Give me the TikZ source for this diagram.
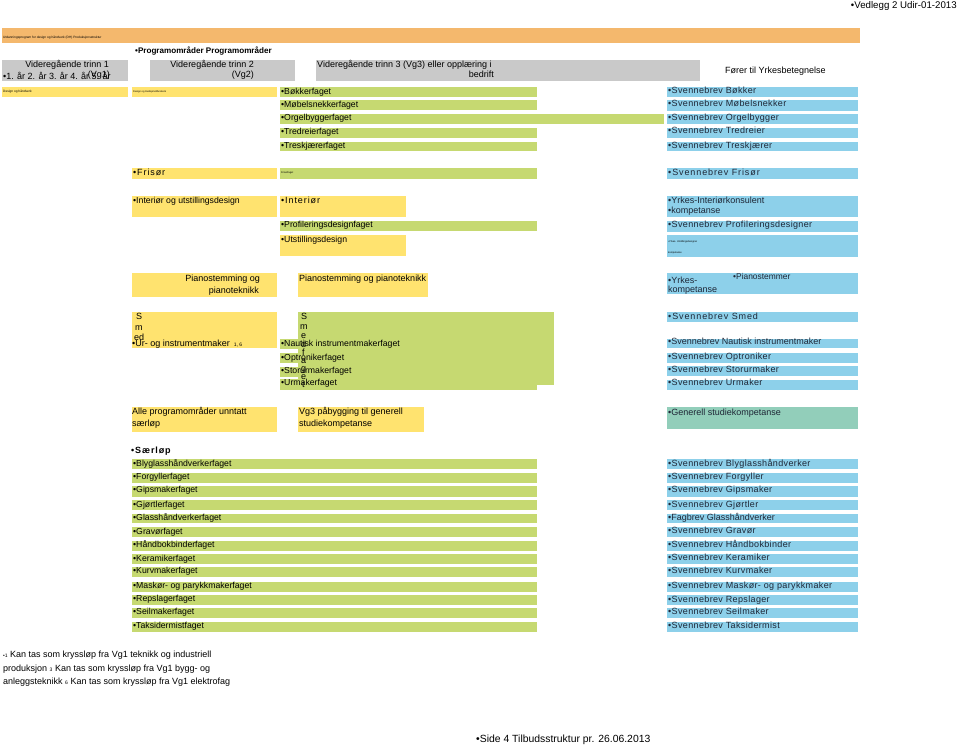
\documentclass[tikz,border=0pt]{standalone}
\usepackage{fontspec}
\setmainfont{Liberation Sans}
\newfontfamily\spaced[LetterSpace=4]{Liberation Sans}
\newfontfamily\widesp[LetterSpace=10]{Liberation Sans}
\usepackage{xcolor}
\usepackage{tikz}
\usetikzlibrary{positioning}

\definecolor{dhorange}{HTML}{F4B86D}
\definecolor{dhgrey}{HTML}{C9C9C9}
\definecolor{dhyellow}{HTML}{FFE36F}
\definecolor{dhgreen}{HTML}{C6D971}
\definecolor{dhblue}{HTML}{8DD0EA}
\definecolor{dhteal}{HTML}{92CEBA}
\definecolor{dhtext}{HTML}{1E2636}

\begin{document}
\begin{tikzpicture}[
      x=1pt, y=-1pt,
      txt/.style={anchor=west, inner sep=0pt, font=\fontsize{8.7}{10}\selectfont,
                  text height=6.3pt, text depth=1.8pt},
      hd/.style={txt, font=\fontsize{9}{10}\selectfont},
      sv/.style={txt, text=dhtext, font=\spaced\fontsize{9}{10}\selectfont},
      svw/.style={txt, text=dhtext, font=\widesp\fontsize{9}{10}\selectfont},
      tiny/.style={anchor=west, inner sep=0pt, font=\fontsize{2.8}{3}\selectfont},
      orng/.style={fill=dhorange},
      gry/.style={fill=dhgrey},
      yel/.style={fill=dhyellow},
      grn/.style={fill=dhgreen},
      blu/.style={fill=dhblue},
      tea/.style={fill=dhteal}
    ]
    \fill[white] (0,0) rectangle (960,746);
    \useasboundingbox (0,0) rectangle (960,746);

    % top line
    \node[anchor=east, inner sep=0pt, font=\fontsize{9.7}{11}\selectfont] (vedlegg) at (957,6) {•Vedlegg 2 Udir-01-2013};
    \path[orng] (2,28) rectangle (860,43);
    \node[tiny, font=\fontsize{3.2}{4}\selectfont] (bartxt) at (3,38) {Utdanningsprogram for design og håndverk (DH) Produksjonsstruktur};
    \node[txt, font=\bfseries\fontsize{8.1}{10}\selectfont] (progomr) at (135,51) {•Programområder Programområder};

    % header boxes
    \path[gry] (2,60) rectangle (128,81);
    \node[hd, anchor=east] (vg1a) at (109,65) {Videregående trinn 1};
    \node[hd, anchor=east] (vg1b) at (110,75) {(Vg1)};
    \node[hd] (aar) at (3,77) {•1. år 2. år 3. år 4. år 5. år};
    \path[gry] (150,60) rectangle (295,81);
    \node[hd, anchor=east] (vg2a) at (254,65) {Videregående trinn 2};
    \node[hd, anchor=east] (vg2b) at (254,75) {(Vg2)};
    \path[gry] (316,60) rectangle (700,81);
    \node[hd] (vg3a) at (317,65) {Videregående trinn 3 (Vg3) eller opplæring i};
    \node[hd, anchor=east] (vg3b) at (494,75) {bedrift};
    \node[hd] (forer) at (725,71) {Fører til Yrkesbetegnelse};

    % design og tradisjonshaandverk
    \path[yel] (2,87) rectangle (128,97);
    \node[tiny, font=\fontsize{3.2}{4}\selectfont] (dh1) at (3,92) {Design og håndverk};
    \path[yel] (132,87) rectangle (277,97);
    \node[tiny, font=\fontsize{2.5}{3}\selectfont] (dh2) at (133,92) {Design og tradisjonshåndverk};
    \path[grn] (280,87) rectangle (537,97);
    \node[txt] (bok) at (281,92) {•Bøkkerfaget};
    \path[grn] (280,100) rectangle (537,110);
    \node[txt] (mob) at (281,105) {•Møbelsnekkerfaget};
    \path[grn] (280,114) rectangle (664,124);
    \node[txt] (org) at (281,118) {•Orgelbyggerfaget};
    \path[grn] (280,128) rectangle (537,138);
    \node[txt] (tre) at (281,132) {•Tredreierfaget};
    \path[grn] (280,142) rectangle (537,151);
    \node[txt] (tsk) at (281,146) {•Treskjærerfaget};
    \path[blu] (667,87) rectangle (858,97);
    \node[sv] (svbok) at (668,91) {•Svennebrev Bøkker};
    \path[blu] (667,100) rectangle (858,111);
    \node[sv] (svmob) at (668,104) {•Svennebrev Møbelsnekker};
    \path[blu] (667,114) rectangle (858,124);
    \node[sv] (svorg) at (668,118) {•Svennebrev Orgelbygger};
    \path[blu] (667,128) rectangle (858,138);
    \node[sv] (svtre) at (668,131) {•Svennebrev Tredreier};
    \path[blu] (667,142) rectangle (858,151);
    \node[sv] (svtsk) at (668,146) {•Svennebrev Treskjærer};

    % frisoer
    \path[yel] (132,168) rectangle (277,179);
    \node[svw, text=black] (fris) at (133,173) {•Frisør};
    \path[grn] (280,168) rectangle (537,179);
    \node[tiny, font=\fontsize{2.5}{3}\selectfont] (frisfag) at (281,173) {Frisørfaget};
    \path[blu] (667,168) rectangle (858,179);
    \node[svw] (svfris) at (668,173) {•Svennebrev Frisør};

    % interioer og utstillingsdesign
    \path[yel] (132,196) rectangle (277,217);
    \node[txt] (intut) at (133,201) {•Interiør og utstillingsdesign};
    \path[yel] (280,196) rectangle (406,217);
    \node[svw, text=black] (inter) at (281,201) {•Interiør};
    \path[grn] (280,221) rectangle (537,231);
    \node[txt] (prof) at (281,225) {•Profileringsdesignfaget};
    \path[yel] (280,235) rectangle (406,256);
    \node[txt] (utst) at (281,240) {•Utstillingsdesign};
    \path[blu] (667,196) rectangle (858,217);
    \node[sv, font=\fontsize{9}{10}\selectfont] (ykint) at (668,201) {•Yrkes-Interiørkonsulent};
    \node[sv, font=\fontsize{9}{10}\selectfont] (ykkomp) at (668,211) {•kompetanse};
    \path[blu] (667,221) rectangle (858,232);
    \node[sv] (svprof) at (668,225) {•Svennebrev Profileringsdesigner};
    \path[blu] (667,235) rectangle (858,257);
    \node[tiny, font=\fontsize{2.5}{3}\selectfont] (ykutst) at (668,242) {•Yrkes- Utstillingsdesigner};
    \node[tiny, font=\fontsize{2.5}{3}\selectfont] (ykutkomp) at (668,253) {kompetanse};

    % piano
    \path[yel] (132,273) rectangle (277,297);
    \node[hd, anchor=east] (pia1) at (260,279) {Pianostemming og};
    \node[hd, anchor=east] (pia2) at (259,291) {pianoteknikk};
    \path[yel] (298,273) rectangle (428,297);
    \node[hd] (pia3) at (299,279) {Pianostemming og pianoteknikk};
    \path[blu] (667,273) rectangle (858,294);
    \node[hd, text=dhtext] (ykpia) at (668,281) {•Yrkes-};
    \node[hd, text=dhtext] (ykpiak) at (668,290) {kompetanse};
    \node[txt, font=\fontsize{8.4}{10}\selectfont, text=dhtext] (pstem) at (733,277) {•Pianostemmer};

    % smed, ur og instrumentmaker
    \path[yel] (132,312) rectangle (277,348);
    \node[hd] (ys) at (136,317) {S};
    \node[hd] (ym) at (135,328) {m};
    \node[hd] (yed) at (134,338) {ed};
    \node[hd] (urin) at (132,344) {•Ur- og instrumentmaker {\fontsize{5}{6}\selectfont\ 1, 6}};
    \path[grn] (298,312) rectangle (554,385);
    \path[grn] (280,339) rectangle (537,349);
    \path[grn] (280,353) rectangle (537,363);
    \path[grn] (280,367) rectangle (537,377);
    \path[grn] (280,379) rectangle (537,390);
    \node[hd] (gs) at (301,317) {S};
    \node[hd] (gm) at (300,327) {m};
    \node[hd] (ge) at (301,336) {e};
    \node[hd] (gd) at (301,345) {d};
    \node[hd] (gf) at (302,353) {f};
    \node[hd] (ga) at (301,361) {a};
    \node[hd] (gg) at (301,369) {g};
    \node[hd] (ge2) at (301,377) {e};
    \node[hd] (gt) at (302,385) {t};
    \node[txt] (naut) at (281,344) {•Nautisk instrumentmakerfaget};
    \node[txt] (optr) at (281,358) {•Optronikerfaget};
    \node[txt] (stur) at (281,371.5) {•Storurmakerfaget};
    \node[txt] (urm) at (281,383.5) {•Urmakerfaget};
    \path[blu] (667,312) rectangle (858,322);
    \node[svw] (svsmed) at (668,317) {•Svennebrev Smed};
    \path[blu] (667,339) rectangle (858,348);
    \node[sv, font=\fontsize{9}{10}\selectfont] (svnaut) at (668,342) {•Svennebrev Nautisk instrumentmaker};
    \path[blu] (667,353) rectangle (858,363);
    \node[sv] (svoptr) at (668,357) {•Svennebrev Optroniker};
    \path[blu] (667,366) rectangle (858,376);
    \node[sv] (svstur) at (668,370) {•Svennebrev Storurmaker};
    \path[blu] (667,380) rectangle (858,390);
    \node[sv] (svurm) at (668,383) {•Svennebrev Urmaker};

    % studiekompetanse
    \path[yel] (132,407) rectangle (277,432);
    \node[hd] (alle1) at (132,412) {Alle programområder unntatt};
    \node[hd] (alle2) at (132,424) {særløp};
    \path[yel] (298,407) rectangle (424,432);
    \node[hd] (pab1) at (299,412) {Vg3 påbygging til generell};
    \node[hd] (pab2) at (299,424) {studiekompetanse};
    \path[tea] (667,407) rectangle (858,429);
    \node[hd, text=dhtext] (gensk) at (668,413) {•Generell studiekompetanse};

    % saerloep
    \node[txt, font=\widesp\bfseries\fontsize{9}{10}\selectfont] (sarlop) at (131,451) {•Særløp};
    \path[grn] (132,459) rectangle (537,469);
    \node[txt] (blyg) at (133,464) {•Blyglasshåndverkerfaget};
    \path[grn] (132,473) rectangle (537,483);
    \node[txt] (forg) at (133,477) {•Forgyllerfaget};
    \path[grn] (132,486) rectangle (537,497);
    \node[txt] (gips) at (133,490.5) {•Gipsmakerfaget};
    \path[grn] (132,500) rectangle (537,510);
    \node[txt] (gjor) at (133,505) {•Gjørtlerfaget};
    \path[grn] (132,514) rectangle (537,523);
    \node[txt] (glas) at (133,518) {•Glasshåndverkerfaget};
    \path[grn] (132,527) rectangle (537,537);
    \node[txt] (grav) at (133,532) {•Gravørfaget};
    \path[grn] (132,541) rectangle (537,551);
    \node[txt] (hbok) at (133,545) {•Håndbokbinderfaget};
    \path[grn] (132,554) rectangle (537,564);
    \node[txt] (kera) at (133,559) {•Keramikerfaget};
    \path[grn] (132,567) rectangle (537,577);
    \node[txt] (kurv) at (133,571.5) {•Kurvmakerfaget};
    \path[grn] (132,582) rectangle (537,592);
    \node[txt] (mask) at (133,586) {•Maskør- og parykkmakerfaget};
    \path[grn] (132,595) rectangle (537,605);
    \node[txt] (reps) at (133,599.5) {•Repslagerfaget};
    \path[grn] (132,608) rectangle (537,618);
    \node[txt] (seil) at (133,612.5) {•Seilmakerfaget};
    \path[grn] (132,622) rectangle (537,632);
    \node[txt] (taks) at (133,626) {•Taksidermistfaget};
    \path[blu] (667,459) rectangle (858,469);
    \node[sv] (svblyg) at (668,464) {•Svennebrev Blyglasshåndverker};
    \path[blu] (667,473) rectangle (858,483);
    \node[sv] (svforg) at (668,477) {•Svennebrev Forgyller};
    \path[blu] (667,486) rectangle (858,497);
    \node[sv] (svgips) at (668,490.5) {•Svennebrev Gipsmaker};
    \path[blu] (667,500) rectangle (858,510);
    \node[sv] (svgjor) at (668,505) {•Svennebrev Gjørtler};
    \path[blu] (667,514) rectangle (858,523);
    \node[sv, font=\fontsize{9}{10}\selectfont] (fbglas) at (668,518) {•Fagbrev Glasshåndverker};
    \path[blu] (667,527) rectangle (858,537);
    \node[sv] (svgrav) at (668,531.5) {•Svennebrev Gravør};
    \path[blu] (667,541) rectangle (858,551);
    \node[sv] (svhbok) at (668,545) {•Svennebrev Håndbokbinder};
    \path[blu] (667,554) rectangle (858,564);
    \node[sv] (svkera) at (668,558.5) {•Svennebrev Keramiker};
    \path[blu] (667,567) rectangle (858,577);
    \node[sv] (svkurv) at (668,571) {•Svennebrev Kurvmaker};
    \path[blu] (667,582) rectangle (858,592);
    \node[sv] (svmask) at (668,586) {•Svennebrev Maskør- og parykkmaker};
    \path[blu] (667,595) rectangle (858,605);
    \node[sv] (svreps) at (668,600) {•Svennebrev Repslager};
    \path[blu] (667,608) rectangle (858,618);
    \node[sv] (svseil) at (668,612.5) {•Svennebrev Seilmaker};
    \path[blu] (667,622) rectangle (858,632);
    \node[sv] (svtaks) at (668,626) {•Svennebrev Taksidermist};

    % fotnoter
    \node[hd] (fn1) at (3,655) {{\fontsize{5}{6}\selectfont •1} Kan tas som kryssløp fra Vg1 teknikk og industriell};
    \node[hd] (fn2) at (3,669) {produksjon {\fontsize{5}{6}\selectfont 3} Kan tas som kryssløp fra Vg1 bygg- og};
    \node[hd] (fn3) at (3,682) {anleggsteknikk {\fontsize{5}{6}\selectfont 6} Kan tas som kryssløp fra Vg1 elektrofag};
    \node[txt, font=\fontsize{10.4}{12}\selectfont] (side) at (476,740) {•Side 4 Tilbudsstruktur pr. 26.06.2013};
  \end{tikzpicture}
\end{document}
